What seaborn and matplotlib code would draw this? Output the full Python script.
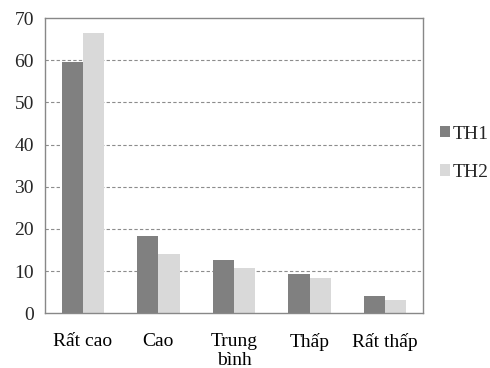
import matplotlib
matplotlib.use("Agg")
import matplotlib.pyplot as plt
import seaborn as sns
import pandas as pd
import numpy as np

categories = ["Rất cao", "Cao", "Trung\nbình", "Thấp", "Rất thấp"]
th1 = [59.5, 18.4, 12.5, 9.3, 4.0]
th2 = [66.4, 14.1, 10.8, 8.4, 3.1]
series_names = ["TH1", "TH2"]
yticks = [0, 10, 20, 30, 40, 50, 60, 70]

df = pd.DataFrame({
    "cat": categories * 2,
    "val": th1 + th2,
    "series": [series_names[0]] * len(categories) + [series_names[1]] * len(categories),
})

sns.set_theme(style="white")
plt.rcParams["font.family"] = ["Liberation Serif", "DejaVu Serif"]

fig = plt.figure(figsize=(4.9, 3.68), dpi=100)
ax = fig.add_axes([0.092, 0.149, 0.771, 0.802])

sns.barplot(data=df, x="cat", y="val", hue="series", order=categories,
            palette=["#808080", "#d9d9d9"], width=0.56, saturation=1,
            linewidth=0, ax=ax)

ax.set_ylim(0, 70)
ax.set_xlim(-0.5, len(categories) - 0.5)
ax.set_yticks(yticks)
ax.set_yticklabels([str(v) for v in yticks], fontsize=14)
ax.set_xlabel("")
ax.set_ylabel("")
ax.tick_params(axis="x", which="major", length=0, labelsize=14, pad=14, colors="#000000")
ax.set_xticks(np.arange(-0.5, len(categories), 1.0), minor=True)
ax.tick_params(axis="x", which="minor", length=5, width=1, color="#888888", direction="out")
ax.tick_params(axis="y", length=5, width=1, color="#888888", direction="out", labelsize=14, pad=3)
for lab in ax.get_xticklabels():
    lab.set_linespacing(1.15)

for y in yticks[1:-1]:
    ax.axhline(y, color="#8c8c8c", linestyle=(0, (3, 2)), linewidth=0.8, zorder=0)

for s in ax.spines.values():
    s.set_visible(True)
    s.set_color("#888888")
    s.set_linewidth(1)

leg = ax.legend(loc="center left", bbox_to_anchor=(1.045, 0.542), frameon=False,
                fontsize=14, handlelength=0.5, handleheight=0.5, handletextpad=0.15,
                labelspacing=1.1, borderpad=0, borderaxespad=0)

fig.savefig("out.png", dpi=100)
